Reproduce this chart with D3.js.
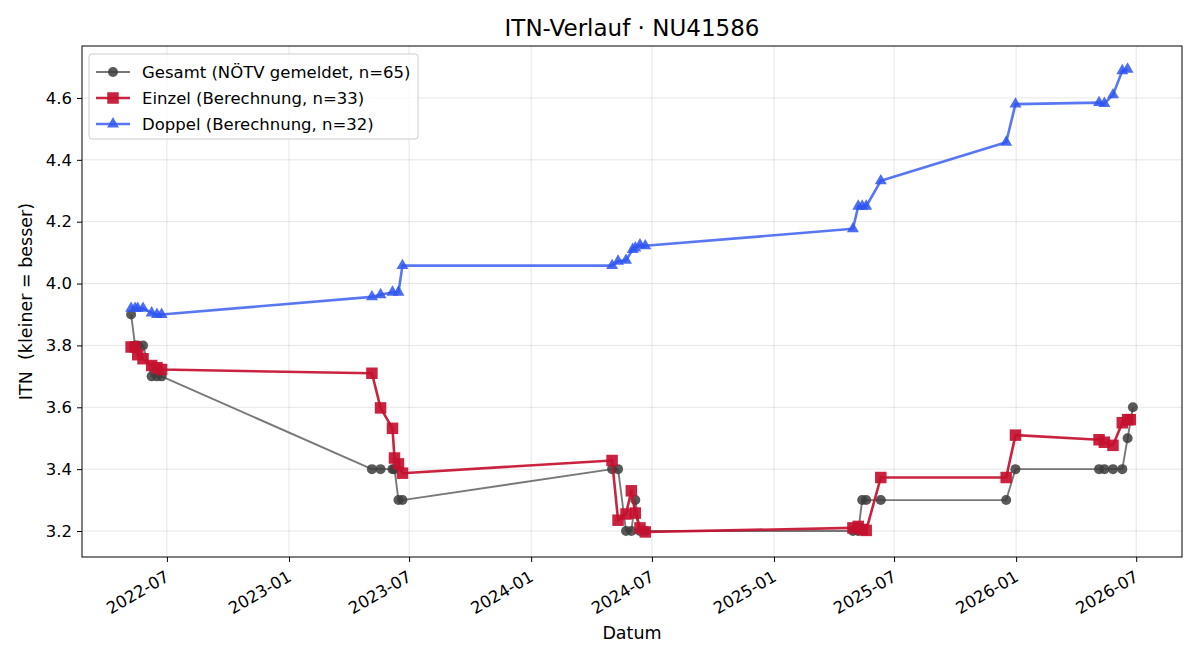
<!DOCTYPE html>
<html>
<head>
<meta charset="utf-8">
<script src="https://cdn.jsdelivr.net/npm/d3@7"></script>
<style>
  body { margin: 0; background: #fff; }
  svg text { font-family: 'DejaVu Sans', sans-serif; fill: #000; }
  .grid line { stroke: #000; stroke-opacity: 0.1; }
</style>
</head>
<body>
<svg width="1200" height="660"></svg>
<script>
// Gesamt (NÖTV gemeldet)
const gesamtDates = ['2022-05-08','2022-05-14','2022-05-18','2022-05-26','2022-06-08','2022-06-16','2022-06-23',
  '2023-05-06','2023-05-19','2023-06-06','2023-06-09','2023-06-15','2023-06-21',
  '2024-05-02','2024-05-11','2024-05-23','2024-05-31','2024-06-06','2024-06-13','2024-06-21',
  '2025-04-30','2025-05-08','2025-05-14','2025-05-20','2025-06-11',
  '2025-12-17','2025-12-31',
  '2026-05-06','2026-05-14','2026-05-27','2026-06-10','2026-06-18','2026-06-26']
const gesamtITN = [3.9,3.8,3.8,3.8,3.7,3.7,3.7,
  3.4,3.4,3.4,3.4,3.3,3.3,
  3.4,3.4,3.2,3.2,3.3,3.2,3.2,
  3.2,3.2,3.3,3.3,3.3,
  3.3,3.4,
  3.4,3.4,3.4,3.4,3.5,3.6]

// Einzel (Berechnung)
const einzelDates = ['2022-05-08','2022-05-14','2022-05-18','2022-05-26','2022-06-08','2022-06-16','2022-06-23',
  '2023-05-06','2023-05-19','2023-06-06','2023-06-09','2023-06-15','2023-06-21',
  '2024-05-02','2024-05-11','2024-05-23','2024-05-31','2024-06-06','2024-06-13','2024-06-21',
  '2025-04-30','2025-05-08','2025-05-14','2025-05-20','2025-06-11',
  '2025-12-17','2025-12-31',
  '2026-05-06','2026-05-14','2026-05-27','2026-06-10','2026-06-18','2026-06-22']
const einzelITN = [3.795,3.795,3.77,3.757,3.735,3.728,3.722,
  3.71,3.598,3.532,3.436,3.417,3.387,
  3.428,3.235,3.255,3.33,3.258,3.21,3.197,
  3.21,3.215,3.205,3.202,3.373,
  3.373,3.51,
  3.495,3.487,3.477,3.55,3.56,3.56]

// Doppel (Berechnung)
const doppelDates = ['2022-05-08','2022-05-14','2022-05-18','2022-05-26','2022-06-08','2022-06-16','2022-06-23',
  '2023-05-06','2023-05-19','2023-06-06','2023-06-15','2023-06-21',
  '2024-05-02','2024-05-11','2024-05-23','2024-06-02','2024-06-06','2024-06-13','2024-06-21',
  '2025-04-30','2025-05-08','2025-05-14','2025-05-20','2025-06-11',
  '2025-12-17','2025-12-31',
  '2026-05-06','2026-05-14','2026-05-27','2026-06-10','2026-06-18']
const doppelITN = [3.92,3.92,3.92,3.92,3.905,3.9,3.9,
  3.957,3.964,3.972,3.972,4.058,
  4.058,4.072,4.075,4.11,4.115,4.125,4.122,
  4.177,4.25,4.25,4.25,4.332,
  4.457,4.58,
  4.585,4.582,4.61,4.688,4.693]

const yTicks = [3.2,3.4,3.6,3.8,4.0,4.2,4.4,4.6]
const xTicks = ['2022-07-01','2023-01-01','2023-07-01','2024-01-01','2024-07-01','2025-01-01','2025-07-01','2026-01-01','2026-07-01']

const parse = d3.timeParse('%Y-%m-%d')
const toPoints = (dates, vals) => dates.map((d, i) => ({ date: parse(d), itn: vals[i] }))

const series = [
  { label: 'Gesamt (NÖTV gemeldet, n=65)', data: toPoints(gesamtDates, gesamtITN),
    line: '#444', lineOpacity: 0.72, width: 1.9, fill: '#3c3c3c', opacity: 0.85, marker: 'circle', size: 10 },
  { label: 'Einzel (Berechnung, n=33)', data: toPoints(einzelDates, einzelITN),
    line: '#c4102f', lineOpacity: 0.92, width: 2.6, fill: '#c4102f', opacity: 0.92, marker: 'square', size: 11.5 },
  { label: 'Doppel (Berechnung, n=32)', data: toPoints(doppelDates, doppelITN),
    line: '#2f55f0', lineOpacity: 0.8, width: 2.6, fill: '#2f55f0', opacity: 0.85, marker: 'triangle', size: 12 }
]

const svg = d3.select('svg')
const margin = { top: 46, right: 18, bottom: 103, left: 82 }
const width = +svg.attr('width')
const height = +svg.attr('height')
const innerWidth = width - margin.left - margin.right
const innerHeight = height - margin.top - margin.bottom
const tickFont = 16.5

const xScale = d3.scaleTime()
  .domain([parse('2022-02-23'), parse('2026-09-08')])
  .range([0, innerWidth])

const yScale = d3.scaleLinear()
  .domain([3.116, 4.768])
  .range([innerHeight, 0])

const g = svg.append('g')
  .attr('transform', `translate(${margin.left},${margin.top})`)

// grid
g.append('g').attr('class', 'grid')
  .selectAll('line').data(xTicks.map(parse)).enter().append('line')
  .attr('x1', d => xScale(d)).attr('x2', d => xScale(d))
  .attr('y1', 0).attr('y2', innerHeight)
g.append('g').attr('class', 'grid')
  .selectAll('line').data(yTicks).enter().append('line')
  .attr('y1', d => yScale(d)).attr('y2', d => yScale(d))
  .attr('x1', 0).attr('x2', innerWidth)

// axes
const xAxisG = g.append('g')
  .attr('transform', `translate(0,${innerHeight})`)
  .call(d3.axisBottom(xScale).tickValues(xTicks.map(parse)).tickFormat(d3.timeFormat('%Y-%m')).tickSizeOuter(0).tickSize(5))
xAxisG.select('.domain').remove()
xAxisG.selectAll('.tick line').attr('stroke', '#000')
xAxisG.selectAll('.tick text')
  .attr('font-size', tickFont)
  .attr('font-family', 'DejaVu Sans, sans-serif')
  .attr('text-anchor', 'end')
  .attr('y', 0).attr('dy', 0)
  .attr('transform', 'translate(3,23) rotate(-30)')

const yAxisG = g.append('g')
  .call(d3.axisLeft(yScale).tickValues(yTicks).tickFormat(d3.format('.1f')).tickSizeOuter(0).tickSize(5).tickPadding(5))
yAxisG.select('.domain').remove()
yAxisG.selectAll('.tick line').attr('stroke', '#000')
yAxisG.selectAll('.tick text')
  .attr('font-size', tickFont)
  .attr('font-family', 'DejaVu Sans, sans-serif')

g.append('rect')
  .attr('width', innerWidth).attr('height', innerHeight)
  .attr('fill', 'none').attr('stroke', '#000').attr('stroke-width', 1)

// series
const line = d3.line().x(d => xScale(d.date)).y(d => yScale(d.itn))

const drawMarker = (sel, type, size) => {
  if (type === 'circle') {
    return sel.append('circle').attr('r', size / 2)
  }
  const sym = type === 'square' ? d3.symbolSquare : d3.symbolTriangle
  const area = type === 'square' ? size * size : size * size * Math.sqrt(3) / 4
  return sel.append('path').attr('d', d3.symbol().type(sym).size(area)())
}

series.forEach(s => {
  g.append('path')
    .datum(s.data)
    .attr('d', line)
    .attr('fill', 'none')
    .attr('stroke', s.line)
    .attr('stroke-opacity', s.lineOpacity)
    .attr('stroke-width', s.width)
    .attr('stroke-linejoin', 'round')

  g.append('g').selectAll('g').data(s.data).enter().append('g')
    .attr('transform', d => `translate(${xScale(d.date)},${yScale(d.itn)})`)
    .each(function () {
      drawMarker(d3.select(this), s.marker, s.size)
        .attr('fill', s.fill)
        .attr('fill-opacity', s.opacity)
    })
})

// legend
const legend = g.append('g').attr('transform', 'translate(7,8)')
legend.append('rect')
  .attr('width', 329).attr('height', 85).attr('rx', 3)
  .attr('fill', '#fff').attr('fill-opacity', 0.8)
  .attr('stroke', '#ccc')
series.forEach((s, i) => {
  const row = legend.append('g').attr('transform', `translate(0,${18 + i * 26})`)
  row.append('line')
    .attr('x1', 7).attr('x2', 41)
    .attr('stroke', s.line).attr('stroke-opacity', s.lineOpacity).attr('stroke-width', s.width)
  drawMarker(row.append('g').attr('transform', 'translate(24,0)'), s.marker, s.size)
    .attr('fill', s.fill).attr('fill-opacity', s.opacity)
  row.append('text')
    .attr('x', 53).attr('dy', '0.35em')
    .attr('font-size', tickFont)
    .text(s.label)
})

// titles
svg.append('text')
  .attr('x', margin.left + innerWidth / 2).attr('y', 36)
  .attr('text-anchor', 'middle').attr('font-size', 23)
  .text('ITN-Verlauf · NU41586')

svg.append('text')
  .attr('x', margin.left + innerWidth / 2).attr('y', 639)
  .attr('text-anchor', 'middle').attr('font-size', 17.5)
  .text('Datum')

svg.append('text')
  .attr('transform', `translate(32,${margin.top + innerHeight / 2}) rotate(-90)`)
  .attr('text-anchor', 'middle').attr('font-size', 17.5)
  .style('white-space', 'pre')
  .text('ITN  (kleiner = besser)')
</script>
</body>
</html>
